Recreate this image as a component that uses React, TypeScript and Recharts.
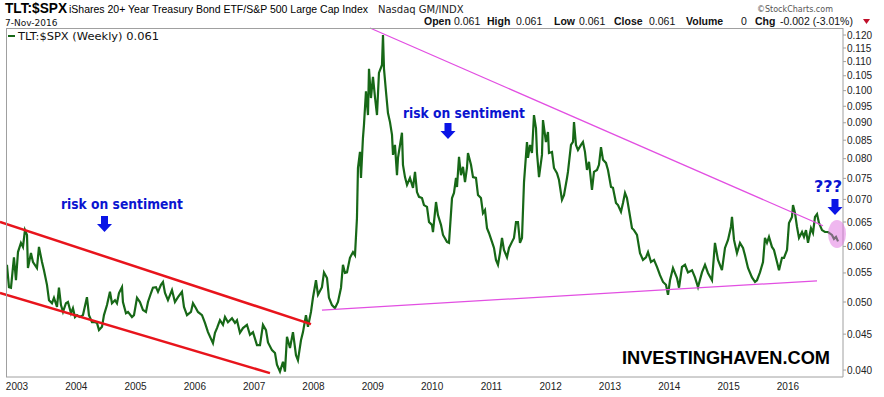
import { LineChart, Line, XAxis, YAxis, ReferenceLine } from 'recharts'

// weekly TLT:$SPX ratio, dates as decimal years
const weeks = [
  2002.831, 2002.865, 2002.899, 2002.949, 2002.983, 2003.017, 2003.067, 2003.101, 2003.135, 2003.169,
  2003.185, 2003.236, 2003.270, 2003.337, 2003.371, 2003.422, 2003.455, 2003.506, 2003.540, 2003.590,
  2003.624, 2003.675, 2003.708, 2003.742, 2003.776, 2003.826, 2003.860, 2003.911, 2003.944, 2003.978,
  2004.012, 2004.062, 2004.113, 2004.180, 2004.214, 2004.265, 2004.315, 2004.349, 2004.383, 2004.434,
  2004.467, 2004.518, 2004.568, 2004.602, 2004.653, 2004.686, 2004.720, 2004.771, 2004.787, 2004.838,
  2004.872, 2004.939, 2004.973, 2005.024, 2005.074, 2005.125, 2005.175, 2005.209, 2005.260, 2005.293,
  2005.344, 2005.378, 2005.428, 2005.462, 2005.496, 2005.546, 2005.614, 2005.664, 2005.715, 2005.782,
  2005.816, 2005.867, 2005.934, 2005.968, 2006.018, 2006.052, 2006.120, 2006.170, 2006.221, 2006.305,
  2006.339, 2006.373, 2006.423, 2006.474, 2006.508, 2006.558, 2006.626, 2006.676, 2006.710, 2006.760,
  2006.811, 2006.878, 2006.929, 2006.980, 2007.047, 2007.098, 2007.148, 2007.199, 2007.233, 2007.300,
  2007.351, 2007.384, 2007.435, 2007.486, 2007.519, 2007.553, 2007.604, 2007.654, 2007.705, 2007.738,
  2007.789, 2007.823, 2007.873, 2007.907, 2007.958, 2007.991, 2008.042, 2008.076, 2008.143, 2008.177,
  2008.228, 2008.261, 2008.312, 2008.362, 2008.413, 2008.464, 2008.497, 2008.531, 2008.565, 2008.615,
  2008.666, 2008.700, 2008.733, 2008.750, 2008.784, 2008.801, 2008.834, 2008.851, 2008.885, 2008.919,
  2008.936, 2008.969, 2009.003, 2009.037, 2009.071, 2009.104, 2009.155, 2009.172, 2009.189, 2009.222,
  2009.256, 2009.290, 2009.324, 2009.341, 2009.374, 2009.408, 2009.425, 2009.492, 2009.509, 2009.543,
  2009.577, 2009.627, 2009.678, 2009.712, 2009.745, 2009.779, 2009.830, 2009.863, 2009.914, 2009.948,
  2009.998, 2010.015, 2010.066, 2010.099, 2010.150, 2010.184, 2010.251, 2010.285, 2010.336, 2010.369,
  2010.403, 2010.420, 2010.454, 2010.487, 2010.521, 2010.555, 2010.588, 2010.605, 2010.656, 2010.690,
  2010.740, 2010.774, 2010.824, 2010.858, 2010.892, 2010.926, 2010.959, 2011.010, 2011.044, 2011.077,
  2011.111, 2011.145, 2011.179, 2011.212, 2011.263, 2011.297, 2011.347, 2011.381, 2011.415, 2011.448,
  2011.482, 2011.516, 2011.550, 2011.600, 2011.617, 2011.651, 2011.684, 2011.718, 2011.752, 2011.769,
  2011.803, 2011.853, 2011.870, 2011.920, 2011.954, 2011.971, 2012.022, 2012.055, 2012.106, 2012.140,
  2012.190, 2012.224, 2012.275, 2012.291, 2012.342, 2012.376, 2012.393, 2012.426, 2012.460, 2012.511,
  2012.544, 2012.578, 2012.612, 2012.646, 2012.696, 2012.730, 2012.781, 2012.814, 2012.848, 2012.882,
  2012.932, 2012.966, 2013.017, 2013.050, 2013.101, 2013.135, 2013.185, 2013.219, 2013.253, 2013.286,
  2013.320, 2013.371, 2013.404, 2013.455, 2013.506, 2013.556, 2013.607, 2013.641, 2013.691, 2013.742,
  2013.792, 2013.843, 2013.894, 2013.944, 2013.978, 2014.012, 2014.062, 2014.130, 2014.164, 2014.214,
  2014.265, 2014.315, 2014.383, 2014.433, 2014.484, 2014.551, 2014.602, 2014.652, 2014.720, 2014.770,
  2014.821, 2014.888, 2014.939, 2014.990, 2015.040, 2015.057, 2015.091, 2015.141, 2015.192, 2015.243,
  2015.276, 2015.327, 2015.394, 2015.445, 2015.479, 2015.529, 2015.580, 2015.613, 2015.647, 2015.681,
  2015.731, 2015.765, 2015.816, 2015.850, 2015.900, 2015.934, 2015.985, 2016.018, 2016.069, 2016.086,
  2016.120, 2016.153, 2016.187, 2016.238, 2016.271, 2016.305, 2016.339, 2016.389, 2016.423, 2016.457,
  2016.491, 2016.524, 2016.575, 2016.625, 2016.676, 2016.743, 2016.777, 2016.811, 2016.845,
]

const ratio = [
  0.0565, 0.0525, 0.0524, 0.0579, 0.0537, 0.0589, 0.0607, 0.0599, 0.0633, 0.0623,
  0.0559, 0.0587, 0.0570, 0.0559, 0.0599, 0.0570, 0.0555, 0.0529, 0.0503, 0.0498,
  0.0507, 0.0492, 0.0524, 0.0495, 0.0484, 0.0498, 0.0500, 0.0482, 0.0490, 0.0476,
  0.0479, 0.0476, 0.0479, 0.0508, 0.0479, 0.0468, 0.0468, 0.0467, 0.0456, 0.0461,
  0.0479, 0.0495, 0.0517, 0.0498, 0.0503, 0.0498, 0.0515, 0.0525, 0.0500, 0.0482,
  0.0484, 0.0476, 0.0479, 0.0507, 0.0500, 0.0487, 0.0484, 0.0500, 0.0515, 0.0524,
  0.0525, 0.0517, 0.0529, 0.0534, 0.0515, 0.0503, 0.0520, 0.0500, 0.0508, 0.0517,
  0.0492, 0.0479, 0.0484, 0.0498, 0.0490, 0.0484, 0.0479, 0.0467, 0.0453, 0.0437,
  0.0452, 0.0459, 0.0471, 0.0464, 0.0476, 0.0468, 0.0474, 0.0467, 0.0471, 0.0452,
  0.0459, 0.0464, 0.0449, 0.0453, 0.0434, 0.0434, 0.0464, 0.0456, 0.0438, 0.0427,
  0.0423, 0.0407, 0.0398, 0.0411, 0.0398, 0.0446, 0.0430, 0.0453, 0.0420, 0.0413,
  0.0441, 0.0453, 0.0479, 0.0461, 0.0484, 0.0507, 0.0537, 0.0512, 0.0525, 0.0551,
  0.0541, 0.0507, 0.0495, 0.0490, 0.0500, 0.0524, 0.0565, 0.0550, 0.0551, 0.0578,
  0.0589, 0.0583, 0.0658, 0.0776, 0.0818, 0.0751, 0.0856, 0.0893, 0.0998, 0.0923,
  0.1074, 0.0976, 0.1046, 0.0979, 0.0923, 0.1060, 0.1088, 0.1200, 0.1074, 0.0998,
  0.0929, 0.0902, 0.0865, 0.0810, 0.0837, 0.0758, 0.0802, 0.0871, 0.0784, 0.0753,
  0.0734, 0.0751, 0.0727, 0.0766, 0.0717, 0.0706, 0.0703, 0.0687, 0.0683, 0.0650,
  0.0644, 0.0629, 0.0694, 0.0665, 0.0644, 0.0623, 0.0609, 0.0607, 0.0703, 0.0715,
  0.0751, 0.0729, 0.0805, 0.0758, 0.0779, 0.0741, 0.0776, 0.0815, 0.0784, 0.0753,
  0.0751, 0.0710, 0.0703, 0.0669, 0.0676, 0.0637, 0.0627, 0.0609, 0.0597, 0.0574,
  0.0565, 0.0587, 0.0617, 0.0593, 0.0579, 0.0597, 0.0609, 0.0617, 0.0650, 0.0650,
  0.0607, 0.0617, 0.0741, 0.0845, 0.0802, 0.0837, 0.0815, 0.0923, 0.0884, 0.0815,
  0.0753, 0.0810, 0.0908, 0.0845, 0.0873, 0.0815, 0.0818, 0.0776, 0.0763, 0.0746,
  0.0699, 0.0710, 0.0751, 0.0766, 0.0837, 0.0845, 0.0902, 0.0837, 0.0823, 0.0837,
  0.0845, 0.0818, 0.0771, 0.0792, 0.0722, 0.0766, 0.0771, 0.0784, 0.0831, 0.0797,
  0.0789, 0.0771, 0.0729, 0.0727, 0.0692, 0.0687, 0.0672, 0.0692, 0.0715, 0.0703,
  0.0676, 0.0637, 0.0633, 0.0623, 0.0587, 0.0574, 0.0579, 0.0589, 0.0570, 0.0574,
  0.0561, 0.0546, 0.0534, 0.0529, 0.0512, 0.0537, 0.0559, 0.0541, 0.0524, 0.0561,
  0.0565, 0.0551, 0.0555, 0.0542, 0.0525, 0.0551, 0.0565, 0.0550, 0.0537, 0.0607,
  0.0574, 0.0555, 0.0597, 0.0613, 0.0640, 0.0661, 0.0613, 0.0587, 0.0607, 0.0597,
  0.0583, 0.0559, 0.0542, 0.0534, 0.0537, 0.0551, 0.0570, 0.0617, 0.0607, 0.0619,
  0.0599, 0.0593, 0.0570, 0.0555, 0.0578, 0.0578, 0.0593, 0.0648, 0.0661, 0.0687,
  0.0669, 0.0640, 0.0617, 0.0629, 0.0619, 0.0633, 0.0607, 0.0637, 0.0627, 0.0661,
  0.0667, 0.0648, 0.0633, 0.0629, 0.0629, 0.0623, 0.0615, 0.0619, 0.0610,
]

const yearTicks = [2003, 2004, 2005, 2006, 2007, 2008, 2009, 2010, 2011, 2012, 2013, 2014, 2015, 2016]
const ratioTicks = [
  0.04, 0.045, 0.05, 0.055, 0.06, 0.065, 0.07, 0.075, 0.08, 0.085,
  0.09, 0.095, 0.1, 0.105, 0.11, 0.115, 0.12,
]

// hand drawn trend lines, [date, ratio] end points
const channelTop = [[2002.713, 0.065], [2007.958, 0.0465]]
const channelBottom = [[2002.713, 0.0515], [2007.266, 0.0396]]
const wedgeTop = [[2008.953, 0.1228], [2016.592, 0.0642]]
const wedgeBottom = [[2008.143, 0.0487], [2016.491, 0.0536]]

const data = weeks.map((t, i) => ({ t, ratio: ratio[i] }))

const SANS = '"Liberation Sans", Arial, sans-serif'
const DEJA = '"DejaVu Sans", Verdana, sans-serif'
const GREEN = '#176817'

function Arrow({ x, y }: { x: number; y: number }) {
  const pts = [
    [x - 3.5, y], [x + 3.5, y], [x + 3.5, y + 8], [x + 7.5, y + 8],
    [x, y + 16], [x - 7.5, y + 8], [x - 3.5, y + 8],
  ]
  return <polygon points={pts.map((p) => p.join(',')).join(' ')} fill="#0a14e6" />
}

function Trend({ line, color, width }: { line: number[][]; color: string; width: number }) {
  return (
    <ReferenceLine
      segment={[{ x: line[0][0], y: line[0][1] }, { x: line[1][0], y: line[1][1] }]}
      stroke={color}
      strokeWidth={width}
      ifOverflow="visible"
    />
  )
}

export default function App() {
  return (
    <div style={{ position: 'relative', width: 884, height: 397, background: '#fff' }}>
      <style>{'body{margin:0}'}</style>
      <LineChart width={884} height={397} data={data} margin={{ top: 28, right: 0, bottom: 0, left: 6 }}>
        <XAxis
          dataKey="t"
          type="number"
          domain={[2002.815, 2016.929]}
          ticks={yearTicks}
          interval={0}
          allowDataOverflow
          height={20}
          axisLine={{ stroke: '#a0a0a0' }}
          tickLine={false}
          tickSize={3}
          tickMargin={3}
          tick={{ fontSize: 10, fill: '#222', fontFamily: SANS }}
        />
        <YAxis
          orientation="right"
          scale="log"
          domain={[0.0391, 0.1228]}
          ticks={ratioTicks}
          interval={0}
          allowDataOverflow
          width={41}
          axisLine={{ stroke: '#a0a0a0' }}
          tickLine={{ stroke: '#a0a0a0' }}
          tickSize={3}
          tickMargin={1}
          tickFormatter={(v) => Number(v).toFixed(3)}
          tick={{ fontSize: 10, fill: '#222', fontFamily: SANS, textAnchor: 'start' }}
        />
        <Line
          type="linear"
          dataKey="ratio"
          stroke={GREEN}
          strokeWidth={2.2}
          dot={false}
          isAnimationActive={false}
        />
        <Trend line={channelTop} color="#e8141c" width={2.5} />
        <Trend line={channelBottom} color="#e8141c" width={2.5} />
        <Trend line={wedgeTop} color="#e24fe2" width={1.3} />
        <Trend line={wedgeBottom} color="#e24fe2" width={1.3} />
      </LineChart>

      <svg
        width={884}
        height={397}
        style={{ position: 'absolute', left: 0, top: 0, pointerEvents: 'none' }}
      >
        {/* plot frame, top and left */}
        <line x1={6} y1={28.5} x2={843} y2={28.5} stroke="#a0a0a0" />
        <line x1={6.5} y1={28} x2={6.5} y2={377} stroke="#a0a0a0" />

        {/* header */}
        <text x={5} y={13} fontFamily={SANS} fontWeight="bold" fontSize={14} textLength={62} lengthAdjust="spacingAndGlyphs">
          TLT:$SPX
        </text>
        <text x={69} y={13} fontFamily={SANS} fontSize={11} textLength={299} lengthAdjust="spacingAndGlyphs">
          iShares 20+ Year Treasury Bond ETF/S&amp;P 500 Large Cap Index
        </text>
        <text x={378} y={13} fontFamily={DEJA} fontSize={10} fill="#222">
          Nasdaq GM/INDX
        </text>
        <text x={757} y={12} fontFamily={DEJA} fontSize={8} fill="#555">
          ©StockCharts.com
        </text>
        <text x={5} y={26} fontFamily={DEJA} fontSize={9} fill="#111">
          7-Nov-2016
        </text>
        <g fontFamily={SANS} fontSize={10.5} fill="#111">
          <text x={424} y={25} fontWeight="bold" fontSize={10.5}>Open</text>
          <text x={454} y={25}>0.061</text>
          <text x={487} y={25} fontWeight="bold" fontSize={10.5}>High</text>
          <text x={516} y={25}>0.061</text>
          <text x={554} y={25} fontWeight="bold" fontSize={10.5}>Low</text>
          <text x={579} y={25}>0.061</text>
          <text x={614} y={25} fontWeight="bold" fontSize={10.5}>Close</text>
          <text x={649} y={25}>0.061</text>
          <text x={686} y={25} fontWeight="bold" fontSize={10.5}>Volume</text>
          <text x={741} y={25}>0</text>
          <text x={755} y={25} fontWeight="bold" fontSize={10.5}>Chg</text>
          <text x={780} y={25}>-0.002 (-3.01%)</text>
        </g>
        <polygon points="863,19 870,19 866.5,24" fill="#c0102a" />

        {/* legend */}
        <line x1={8} y1={36} x2={15} y2={36} stroke={GREEN} strokeWidth={2} />
        <text x={18} y={40} fontFamily={DEJA} fontSize={10} fill="#111" textLength={141} lengthAdjust="spacingAndGlyphs">
          TLT:$SPX (Weekly) 0.061
        </text>

        {/* annotations */}
        <g fontFamily={DEJA} fontWeight="bold" fill="#0a14d0">
          <text x={61} y={209} fontSize={14} textLength={122} lengthAdjust="spacingAndGlyphs">risk on sentiment</text>
          <text x={403} y={118} fontSize={14} textLength={122} lengthAdjust="spacingAndGlyphs">risk on sentiment</text>
          <text x={814} y={192} fontSize={16} textLength={28} lengthAdjust="spacingAndGlyphs">???</text>
        </g>
        <Arrow x={104.5} y={216} />
        <Arrow x={448} y={123} />
        <Arrow x={835} y={199} />
        <ellipse cx={837} cy={234} rx={9} ry={14} fill="#e070e0" fillOpacity={0.5} />

        <text x={622} y={364} fontFamily={SANS} fontWeight="bold" fontSize={19} fill="#000" textLength={208} lengthAdjust="spacingAndGlyphs">
          INVESTINGHAVEN.COM
        </text>
      </svg>
    </div>
  )
}
